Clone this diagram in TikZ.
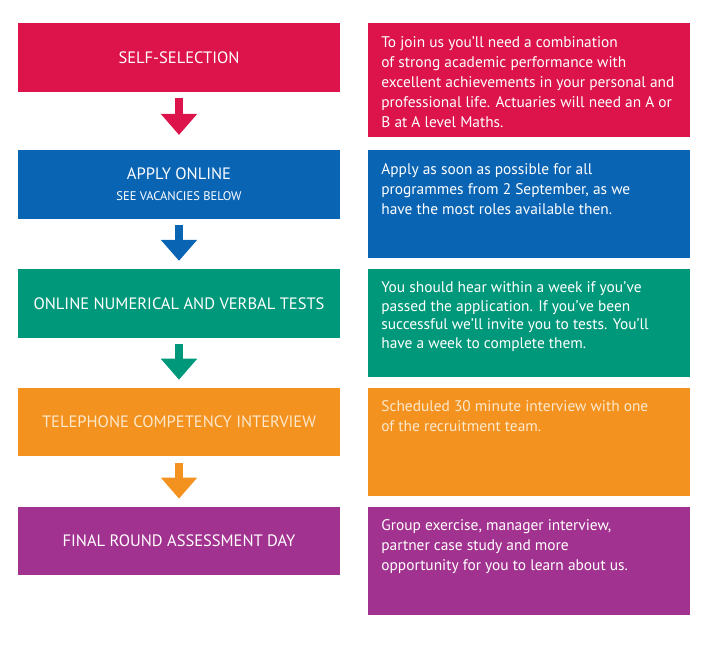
\documentclass[tikz,border=0pt]{standalone}
\usepackage{fontspec}
\setmainfont{PT Sans}
\usetikzlibrary{%
  arrows.meta,% Triangle tips
  positioning% wg. " of "
}

\definecolor{selred}{RGB}{220,20,75}
\definecolor{appblue}{RGB}{10,100,180}
\definecolor{testgreen}{RGB}{0,152,122}
\definecolor{telorange}{RGB}{243,146,31}
\definecolor{finpurple}{RGB}{162,50,144}
\definecolor{cream}{RGB}{253,232,204}

\begin{document}
\begin{tikzpicture}[x=1pt,y=-1pt,
    stepbox/.style={minimum width=322pt,minimum height=68.5pt,inner sep=0pt,align=center,text=white,font=\fontsize{16.5}{19}\selectfont},
    infobox/.style={minimum width=322pt,minimum height=108pt,inner sep=0pt},
    infotext/.style={anchor=north west,inner sep=0pt,align=left,text=white,font=\fontsize{15.4}{20}\selectfont},
    flow/.style={line width=8pt,-{Triangle[width=35pt,length=21pt]},shorten <=6pt,shorten >=8pt,draw=#1}]
    \useasboundingbox (0,0) rectangle (713,663);

    %steps
    \node[stepbox, fill=selred] (selection) at (179,57.5) {SELF-SELECTION};
    \node[stepbox, fill=appblue] (apply) [below=58pt of selection] {APPLY ONLINE\\[2pt]{\fontsize{12.5}{14}\selectfont SEE VACANCIES BELOW}};
    \node[stepbox, fill=testgreen] (tests) [below=50pt of apply] {ONLINE NUMERICAL AND VERBAL TESTS};
    \node[stepbox, fill=telorange, text=cream] (phone) [below=50pt of tests] {TELEPHONE COMPETENCY INTERVIEW};
    \node[stepbox, fill=finpurple] (final) [below=50pt of phone] {FINAL ROUND ASSESSMENT DAY};

    %info boxes
    \node[infobox, fill=selred, minimum height=114pt] (selinfo) [below right=0pt and 28pt of selection.north east] {};
    \node[infobox, fill=appblue] (appinfo) [below right=0pt and 28pt of apply.north east] {};
    \node[infobox, fill=testgreen] (testinfo) [below right=0pt and 28pt of tests.north east] {};
    \node[infobox, fill=telorange] (phoneinfo) [below right=0pt and 28pt of phone.north east] {};
    \node[infobox, fill=finpurple] (finalinfo) [below right=0pt and 28pt of final.north east] {};

    %texts
    \node[infotext] (seltext) at ([xshift=13pt,yshift=-13pt]selinfo.north west) {To join us you’ll need a combination\\of strong academic performance with\\excellent achievements in your personal and\\professional life. Actuaries will need an A or\\B at A level Maths.};
    \node[infotext] (apptext) at ([xshift=13pt,yshift=-13pt]appinfo.north west) {Apply as soon as possible for all\\programmes from 2 September, as we\\have the most roles available then.};
    \node[infotext, font=\fontsize{15.4}{18.5}\selectfont] (testtext) at ([xshift=13pt,yshift=-13pt]testinfo.north west) {You should hear within a week if you’ve\\passed the application. If you’ve been\\successful we’ll invite you to tests. You’ll\\have a week to complete them.};
    \node[infotext, text=cream] (phonetext) at ([xshift=13pt,yshift=-13pt]phoneinfo.north west) {Scheduled 30 minute interview with one\\of the recruitment team.};
    \node[infotext] (finaltext) at ([xshift=13pt,yshift=-13pt]finalinfo.north west) {Group exercise, manager interview,\\partner case study and more\\opportunity for you to learn about us.};

    \path
     (selection) edge[flow=selred, shorten >=15pt] (apply)
     (apply) edge[flow=appblue] (tests)
     (tests) edge[flow=testgreen] (phone)
     (phone) edge[flow=telorange] (final);
\end{tikzpicture}
\end{document}
